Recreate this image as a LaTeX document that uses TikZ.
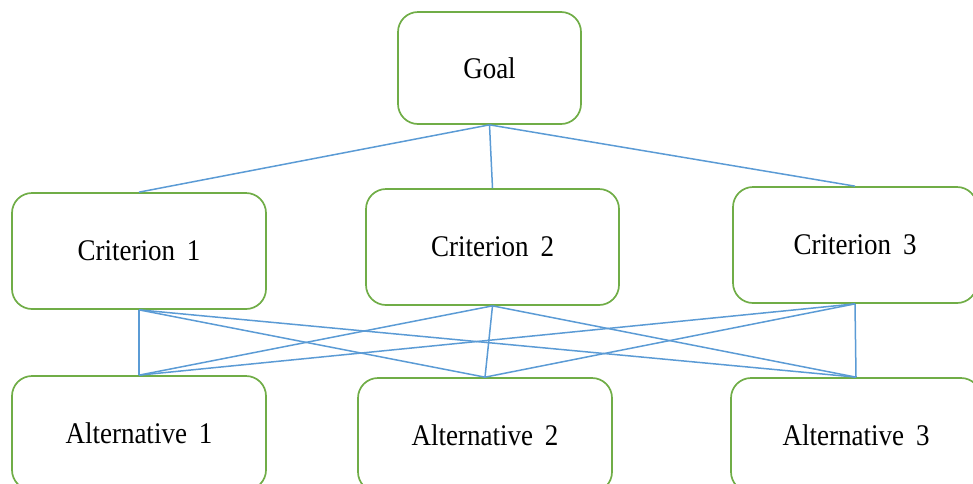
\documentclass[tikz,border=0pt]{standalone}
\usepackage{fontspec}
\setmainfont{Liberation Serif}[FakeStretch=0.9]
\definecolor{boxgreen}{HTML}{70AD47}
\definecolor{linkblue}{HTML}{5B9BD5}
\begin{document}
\begin{tikzpicture}[x=1pt,y=-1pt,
  box/.style={draw=boxgreen, line width=1.7pt, rounded corners=20pt, fill=white,
    inner sep=0pt, align=center, font=\fontsize{30}{33}\selectfont},
  link/.style={draw=linkblue, line width=1.5pt}]
\useasboundingbox (0,0) rectangle (973,483);
\clip (0,0) rectangle (973,483);
\foreach \p/\q in {489.5/68, 139/251, 492.5/247, 855/245, 139/433, 485/435, 856/435} {}
\node[box, minimum width=183pt, minimum height=112pt] (goal) at (489.5,68) {Goal};
\node[box, minimum width=254pt, minimum height=116pt] (c1) at (139,251) {Criterion\hspace{0.4em}1};
\node[box, minimum width=253pt, minimum height=116pt] (c2) at (492.5,247) {Criterion\hspace{0.4em}2};
\node[box, minimum width=244pt, minimum height=116pt] (c3) at (855,245) {Criterion\hspace{0.4em}3};
\node[box, minimum width=254pt, minimum height=114pt] (a1) at (139,433) {Alternative\hspace{0.4em}1};
\node[box, minimum width=254pt, minimum height=114pt] (a2) at (485,435) {Alternative\hspace{0.4em}2};
\node[box, minimum width=250pt, minimum height=114pt] (a3) at (856,435) {Alternative\hspace{0.4em}3};
\foreach \c in {c1,c2,c3} {\draw[link] (goal.south) -- (\c.north);}
\foreach \c in {c1,c2,c3} {\foreach \a in {a1,a2,a3} {\draw[link] (\c.south) -- (\a.north);}}
\end{tikzpicture}
\end{document}
